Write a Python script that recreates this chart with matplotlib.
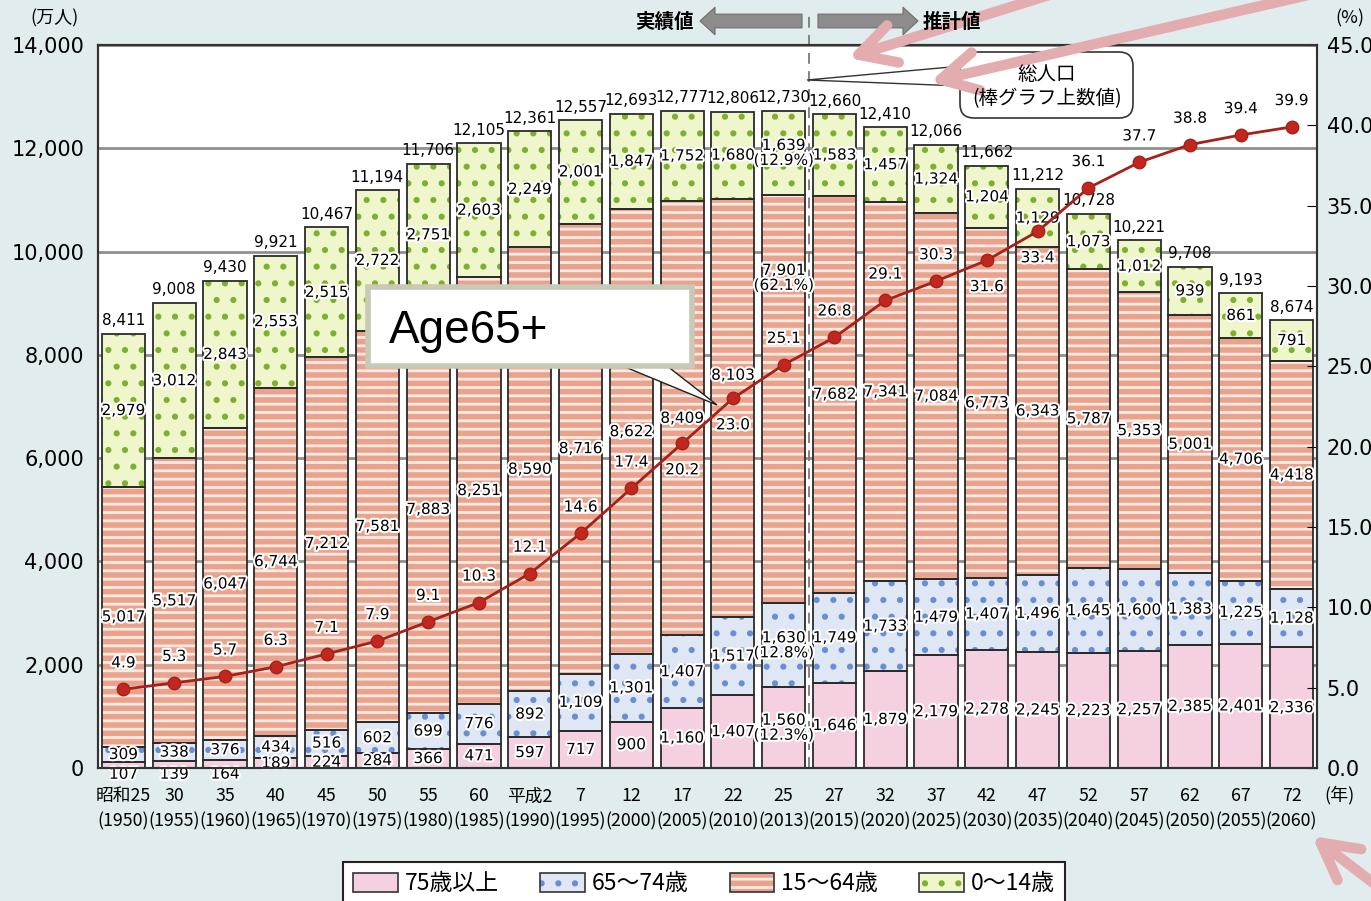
import numpy as np
import matplotlib
matplotlib.use("Agg")
import matplotlib.pyplot as plt
import matplotlib.patheffects as pe
import matplotlib.ticker as ticker
from matplotlib.patches import Patch, FancyArrowPatch, FancyBboxPatch, Polygon, Rectangle
from matplotlib.transforms import Affine2D, blended_transform_factory

# --- data: population by age group (万人) and share of 65+ (%) ---
era_labels = ["昭和25", "30", "35", "40", "45", "50", "55", "60", "平成2", "7", "12", "17",
              "22", "25", "27", "32", "37", "42", "47", "52", "57", "62", "67", "72"]
years = [1950, 1955, 1960, 1965, 1970, 1975, 1980, 1985, 1990, 1995, 2000, 2005,
         2010, 2013, 2015, 2020, 2025, 2030, 2035, 2040, 2045, 2050, 2055, 2060]
age_75_plus = [107, 139, 164, 189, 224, 284, 366, 471, 597, 717, 900, 1160,
               1407, 1560, 1646, 1879, 2179, 2278, 2245, 2223, 2257, 2385, 2401, 2336]
age_65_74 = [309, 338, 376, 434, 516, 602, 699, 776, 892, 1109, 1301, 1407,
             1517, 1630, 1749, 1733, 1479, 1407, 1496, 1645, 1600, 1383, 1225, 1128]
age_15_64 = [5017, 5517, 6047, 6744, 7212, 7581, 7883, 8251, 8590, 8716, 8622, 8409,
             8103, 7901, 7682, 7341, 7084, 6773, 6343, 5787, 5353, 5001, 4706, 4418]
age_0_14 = [2979, 3012, 2843, 2553, 2515, 2722, 2751, 2603, 2249, 2001, 1847, 1752,
            1680, 1639, 1583, 1457, 1324, 1204, 1129, 1073, 1012, 939, 861, 791]
totals = [8411, 9008, 9430, 9921, 10467, 11194, 11706, 12105, 12361, 12557, 12693, 12777,
          12806, 12730, 12660, 12410, 12066, 11662, 11212, 10728, 10221, 9708, 9193, 8674]
ratio_65_plus = [4.9, 5.3, 5.7, 6.3, 7.1, 7.9, 9.1, 10.3, 12.1, 14.6, 17.4, 20.2,
                 23.0, 25.1, 26.8, 29.1, 30.3, 31.6, 33.4, 36.1, 37.7, 38.8, 39.4, 39.9]
share_idx = 13  # 平成25 (2013): shares shown in brackets
share_2013 = ["12.3%", "12.8%", "62.1%", "12.9%"]

W, H = 1371, 901
plt.rcParams["font.family"] = ["DejaVu Sans", "Noto Sans CJK JP"]
plt.rcParams["hatch.linewidth"] = 2.0
NUM_FONT = ["Liberation Sans Narrow", "DejaVu Sans"]
JP_FONT = ["Noto Sans CJK JP", "DejaVu Sans"]

fig = plt.figure(figsize=(W / 100, H / 100), dpi=100)
fig.patch.set_facecolor("#e1ecee")
# pixel coords measured from the top-left corner
px = Affine2D().scale(1 / W, -1 / H).translate(0, 1) + fig.transFigure

ax = fig.add_axes([98 / W, 1 - 768 / H, 1219 / W, 723 / H])
ax.set_facecolor("white")
x = np.arange(len(years))
ax.set_xlim(-0.5, len(years) - 0.5)
ax.set_ylim(0, 14000)
ax.yaxis.grid(True, color="#8f8f8f", lw=2)
ax.set_axisbelow(True)

layers = [
    (age_75_plus, "75歳以上", "#f4d0e1", None, "#f4d0e1"),
    (age_65_74, "65～74歳", "#dfe7f4", ".", "#6a8ed2"),
    (age_15_64, "15～64歳", "#e9a38d", "--", "#fbeae4"),
    (age_0_14, "0～14歳", "#eff6cb", ".", "#7db030"),
]
label_shift = {(0, 0): -175, (0, 1): -190, (0, 2): -200, (2, 12): 630, (2, 13): 2350}
halo = [pe.withStroke(linewidth=3, foreground="white")]

bottom = np.zeros(len(x))
for k, (vals, name, fc, hatch, hc) in enumerate(layers):
    vals = np.array(vals, dtype=float)
    ax.bar(x, vals, 0.85, bottom=bottom, color=fc, hatch=hatch, edgecolor=hc, linewidth=0, zorder=2)
    ax.bar(x, vals, 0.85, bottom=bottom, fill=False, edgecolor="#2b2b2b", linewidth=1.3, zorder=3)
    for i in x:
        txt = f"{int(vals[i]):,}"
        if i == share_idx:
            txt += f"\n({share_2013[k]})"
        y = bottom[i] + vals[i] / 2 + label_shift.get((k, i), 0)
        ax.text(i, y, txt, ha="center", va="center", fontsize=11, family=NUM_FONT,
                path_effects=halo, zorder=4, clip_on=False, linespacing=1.0)
    bottom += vals

for i, t in enumerate(totals):
    ax.annotate(f"{t:,}", (i, bottom[i]), xytext=(0, 4), textcoords="offset points",
                ha="center", va="bottom", fontsize=11, family=NUM_FONT, zorder=4)

ax.set_yticks(np.arange(0, 14001, 2000))
ax.yaxis.set_major_formatter(ticker.StrMethodFormatter("{x:,.0f}"))
ax.tick_params(axis="y", length=0, labelsize=15, pad=10)
ax.set_xticks(x, [f"{e}\n({y})" for e, y in zip(era_labels, years)])
ax.tick_params(axis="x", length=0, pad=14)
for lab in ax.get_xticklabels():
    lab.set_fontfamily(JP_FONT)
    lab.set_fontsize(12.8)
    lab.set_linespacing(1.45)

ax2 = ax.twinx()
ax2.set_ylim(0, 45)
ax2.set_yticks(np.arange(0, 45.1, 5))
ax2.yaxis.set_major_formatter(ticker.StrMethodFormatter("{x:.1f}"))
ax2.tick_params(axis="y", direction="in", length=7, labelsize=15, pad=7)
for a in (ax, ax2):
    for s in a.spines.values():
        s.set_color("#333333")
        s.set_linewidth(1.5)

ax2.plot(x, ratio_65_plus, color="#a52219", lw=2, marker="o", ms=9,
         mfc="#c0281f", mec="#a52219", zorder=5)
below = {11, 12, 17, 18}
for i, r in enumerate(ratio_65_plus):
    dy = -19 if i in below else 19
    ax2.annotate(f"{r:.1f}", (i, r), xytext=(0, dy), textcoords="offset points",
                 ha="center", va="center", fontsize=11, family=NUM_FONT,
                 path_effects=halo, zorder=6)

# boundary between actual and projected values
trans = blended_transform_factory(ax.transData, ax.transAxes)
ax.plot([13.5, 13.5], [0, 1.045], transform=trans, ls=(0, (6, 4)), color="#7a7a7a",
        lw=1.3, clip_on=False, zorder=3.5)

fig.text(55, 18, "(万人)", transform=px, ha="center", va="center", fontsize=13, family=JP_FONT)
fig.text(1350, 18, "(%)", transform=px, ha="center", va="center", fontsize=13, family=JP_FONT)
fig.text(1340, 795, "(年)", transform=px, ha="center", va="center", fontsize=13, family=JP_FONT)

fig.text(664, 22, "実績値", transform=px, ha="center", va="center", fontsize=14,
         weight="bold", family=JP_FONT)
fig.text(952, 22, "推計値", transform=px, ha="center", va="center", fontsize=14,
         weight="bold", family=JP_FONT)
for a, b in [((802, 21), (700, 21)), ((818, 21), (918, 21))]:
    fig.add_artist(FancyArrowPatch(a, b, transform=px, shrinkA=0, shrinkB=0,
                                   arrowstyle="simple,head_length=0.6,head_width=1.1,tail_width=0.55",
                                   mutation_scale=18, fc="#8c8c8c", ec="#6e6e6e", lw=0.8))

# total population callout
fig.add_artist(Polygon([(807, 80), (962, 66), (962, 86)], transform=px, fc="white",
                       ec="#333333", lw=1))
fig.add_artist(FancyBboxPatch((960, 52), 173, 66, boxstyle="round,pad=0,rounding_size=14",
                              transform=px, fc="white", ec="#333333", lw=1.2))
fig.text(1047, 74, "総人口", transform=px, ha="center", va="center", fontsize=14, family=JP_FONT)
fig.text(1047, 99, "(棒グラフ上数値)", transform=px, ha="center", va="center", fontsize=14,
         family=JP_FONT)

# Age65+ callout
fig.add_artist(Polygon([(613, 362), (662, 362), (717, 405)], transform=px, fc="white",
                       ec="#222222", lw=1))
fig.add_artist(Rectangle((368, 287), 324, 79, transform=px, fc="white", ec="#c9c9b7", lw=4))
fig.text(389, 343, "Age65+", transform=px, ha="left", va="baseline", fontsize=33,
         family=["Liberation Sans", "DejaVu Sans"])

# pink pointer arrows
for a, b in [((1065, -10), (848, 58)), ((1330, -10), (930, 82)), ((1385, 892), (1312, 836))]:
    fig.add_artist(FancyArrowPatch(a, b, transform=px, shrinkA=0, shrinkB=0,
                                   arrowstyle="->,head_length=0.65,head_width=0.35",
                                   mutation_scale=40, lw=7.5, color="#e3adb0",
                                   capstyle="round", joinstyle="round"))

handles = [(Patch(facecolor=fc, hatch=h, edgecolor=hc, lw=0),
            Patch(fill=False, edgecolor="#333333", lw=1.2)) for _, _, fc, h, hc in layers]
names = [n for _, n, _, _, _ in layers]
leg = fig.legend(handles, names, loc="upper center", bbox_to_anchor=(704 / W, 1 - 862 / H),
                 ncol=4, frameon=True, fancybox=False, edgecolor="#222222", facecolor="white",
                 framealpha=1, prop={"family": JP_FONT, "size": 16.5}, handlelength=1.95,
                 handleheight=0.95, handletextpad=0.3, columnspacing=1.8, borderpad=0.45,
                 borderaxespad=0)
leg.get_frame().set_linewidth(1.5)

fig.savefig("out.png", dpi=100, facecolor=fig.get_facecolor())
